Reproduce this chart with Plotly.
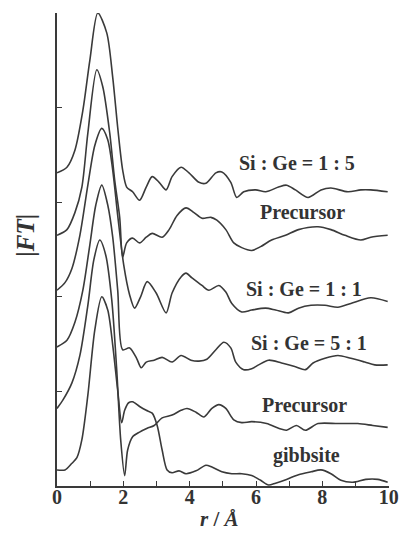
import plotly.graph_objects as go

# ---- data ----
x_15 = [0, 0.30, 0.54, 0.78, 0.99, 1.23, 1.50, 1.68, 1.83, 1.98, 2.10, 2.28, 2.49, 2.69, 2.87, 3.08, 3.29, 3.47,
        3.74, 3.98, 4.28, 4.49, 4.79, 4.97, 5.24, 5.42, 5.63, 5.99, 6.29, 6.68, 6.92, 7.19, 7.57, 7.96, 8.26, 8.77,
        9.16, 9.46, 9.97]
y_15 = [3.31, 3.37, 3.55, 3.97, 4.50, 5.00, 4.79, 4.32, 3.79, 3.34, 3.16, 3.11, 3.02, 3.16, 3.27, 3.21, 3.13, 3.27,
        3.37, 3.31, 3.21, 3.20, 3.31, 3.32, 3.21, 3.05, 3.11, 3.13, 3.11, 3.16, 3.18, 3.13, 3.05, 3.13, 3.15, 3.11,
        3.13, 3.13, 3.11]

x_prec1 = [0, 0.30, 0.54, 0.75, 0.93, 1.20, 1.38, 1.59, 1.74, 1.89, 1.98, 2.10, 2.28, 2.49, 2.69, 2.87, 3.17, 3.38,
           3.62, 3.89, 4.13, 4.37, 4.64, 4.82, 5.09, 5.33, 5.57, 5.87, 6.14, 6.47, 6.89, 7.28, 7.87, 8.26, 8.68,
           9.16, 9.46, 9.97]
y_prec1 = [2.65, 2.71, 2.89, 3.16, 3.73, 4.40, 4.22, 3.73, 3.23, 2.84, 2.42, 2.57, 2.62, 2.57, 2.63, 2.67, 2.63,
           2.71, 2.86, 2.94, 2.89, 2.83, 2.84, 2.81, 2.71, 2.57, 2.52, 2.49, 2.53, 2.60, 2.65, 2.71, 2.74, 2.71,
           2.65, 2.60, 2.63, 2.65]

x_11 = [0, 0.24, 0.45, 0.69, 0.93, 1.14, 1.35, 1.53, 1.68, 1.83, 2.01, 2.19, 2.34, 2.52, 2.72, 2.99, 3.29, 3.47,
        3.74, 3.89, 4.07, 4.37, 4.58, 4.88, 5.09, 5.27, 5.57, 5.87, 6.29, 6.59, 6.98, 7.28, 7.66, 8.08, 8.47, 8.86,
        9.46, 9.97]
y_11 = [2.07, 2.15, 2.30, 2.65, 3.18, 3.60, 3.78, 3.66, 3.34, 2.86, 2.34, 2.02, 1.88, 2.00, 2.16, 2.04, 1.83, 2.04,
        2.21, 2.25, 2.20, 2.12, 2.07, 2.12, 2.05, 1.93, 1.84, 1.86, 1.88, 1.86, 1.83, 1.88, 1.91, 1.91, 1.89, 1.93,
        1.99, 1.95]

x_51 = [0, 0.30, 0.54, 0.78, 0.99, 1.17, 1.35, 1.53, 1.68, 1.83, 1.98, 2.19, 2.40, 2.54, 2.69, 2.93, 3.17, 3.47,
        3.74, 4.04, 4.28, 4.52, 4.79, 5.03, 5.24, 5.39, 5.63, 5.87, 6.08, 6.38, 6.77, 7.19, 7.49, 7.72, 8.08, 8.47,
        8.86, 9.28, 9.58, 9.97]
y_51 = [1.47, 1.54, 1.73, 2.07, 2.55, 2.97, 3.18, 2.97, 2.63, 2.07, 1.44, 1.46, 1.35, 1.25, 1.31, 1.33, 1.36, 1.31,
        1.38, 1.33, 1.32, 1.34, 1.44, 1.52, 1.46, 1.31, 1.23, 1.24, 1.28, 1.33, 1.30, 1.26, 1.23, 1.30, 1.35, 1.38,
        1.35, 1.31, 1.28, 1.28]

x_prec2 = [0, 0.18, 0.45, 0.69, 0.93, 1.11, 1.29, 1.47, 1.65, 1.80, 1.92, 2.04, 2.13, 2.28, 2.49, 2.72, 2.93, 3.17,
           3.47, 3.74, 3.92, 4.19, 4.43, 4.67, 4.88, 5.09, 5.33, 5.57, 5.87, 6.32, 6.68, 6.92, 7.22, 7.49, 7.87,
           8.47, 9.07, 9.52, 9.97]
y_prec2 = [0.82, 0.91, 1.09, 1.38, 1.91, 2.39, 2.60, 2.44, 1.97, 1.23, 0.49, 0.11, 0.38, 0.52, 0.57, 0.61, 0.64,
           0.72, 0.75, 0.80, 0.82, 0.78, 0.73, 0.82, 0.86, 0.82, 0.70, 0.67, 0.68, 0.66, 0.61, 0.59, 0.64, 0.59,
           0.66, 0.66, 0.66, 0.64, 0.62]

x_gib = [0, 0.24, 0.45, 0.60, 0.75, 0.93, 1.14, 1.35, 1.53, 1.68, 1.83, 1.95, 2.04, 2.16, 2.28, 2.49, 2.69, 2.87,
         3.02, 3.17, 3.32, 3.47, 3.68, 3.89, 4.19, 4.49, 4.67, 4.97, 5.27, 5.57, 5.87, 6.14, 6.38, 6.59, 6.92, 7.28,
         7.66, 7.96, 8.26, 8.56, 8.92, 9.31, 9.67, 9.97]
y_gib = [0.17, 0.17, 0.24, 0.30, 0.49, 0.96, 1.65, 2.00, 1.86, 1.49, 1.01, 0.67, 0.80, 0.88, 0.89, 0.84, 0.80, 0.77,
         0.64, 0.38, 0.17, 0.14, 0.16, 0.13, 0.16, 0.22, 0.20, 0.15, 0.13, 0.13, 0.11, 0.06, 0.01, 0.03, 0.07, 0.12,
         0.15, 0.17, 0.13, 0.06, 0.04, 0.07, 0.07, 0.04]

series = [
    (x_15, y_15), (x_prec1, y_prec1), (x_11, y_11),
    (x_51, y_51), (x_prec2, y_prec2), (x_gib, y_gib),
]

label_texts = ["Si : Ge = 1 : 5", "Precursor", "Si : Ge = 1 : 1", "Si : Ge = 5 : 1", "Precursor", "gibbsite"]
label_x = [7.25, 7.40, 7.46, 7.61, 7.46, 7.52]
label_y = [3.41, 2.90, 2.08, 1.51, 0.86, 0.32]

x_ticks = [0, 1, 2, 3, 4, 5, 6, 7, 8, 9, 10]
x_ticktext = ["0", "", "2", "", "4", "", "6", "", "8", "", "10"]
y_ticks = [0, 1, 2, 3, 4, 5]

LINE = "#3a3a3a"
FONT = "Liberation Serif"

fig = go.Figure()
for xs, ys in series:
    fig.add_trace(go.Scatter(x=xs, y=ys, mode="lines",
                             line=dict(color=LINE, width=1.6, shape="spline", smoothing=0.8),
                             showlegend=False, hoverinfo="skip"))

for t, lx, ly in zip(label_texts, label_x, label_y):
    fig.add_annotation(x=lx, y=ly, xref="x", yref="y", text="<b>" + t + "</b>", showarrow=False,
                       font=dict(family=FONT, size=20, color="#333333"), xanchor="center", yanchor="middle")

fig.add_annotation(x=-0.095, y=0.53, xref="paper", yref="paper", text="<b>|<i>FT</i>|</b>", showarrow=False,
                   textangle=-90, font=dict(family=FONT, size=25, color="#333333"),
                   xanchor="center", yanchor="middle")
fig.add_annotation(x=0.49, y=-0.099, xref="paper", yref="paper", text="<b><i>r</i> / <i>Å</i></b>",
                   showarrow=False, font=dict(family=FONT, size=21, color="#333333"),
                   xanchor="center", yanchor="bottom")

fig.update_layout(
    width=400, height=534,
    margin=dict(l=57, r=11, t=13, b=48, autoexpand=False),
    paper_bgcolor="white", plot_bgcolor="white",
    xaxis=dict(range=[0, 10.01], tickvals=x_ticks, ticktext=x_ticktext, ticks="inside", ticklen=5,
               tickcolor=LINE, tickwidth=1.3, showline=True, linecolor=LINE, linewidth=1.6,
               showgrid=False, zeroline=False, ticklabelstandoff=-8, ticklabeloverflow="allow",
               automargin=False,
               tickfont=dict(family=FONT, size=20, color="#333333", weight="bold")),
    yaxis=dict(range=[0, 5], tickvals=y_ticks, ticks="inside", ticklen=5, tickcolor=LINE, tickwidth=1.3,
               showticklabels=False, showline=True, linecolor=LINE, linewidth=1.6,
               showgrid=False, zeroline=False, automargin=False),
)

fig.write_html("out.html")
